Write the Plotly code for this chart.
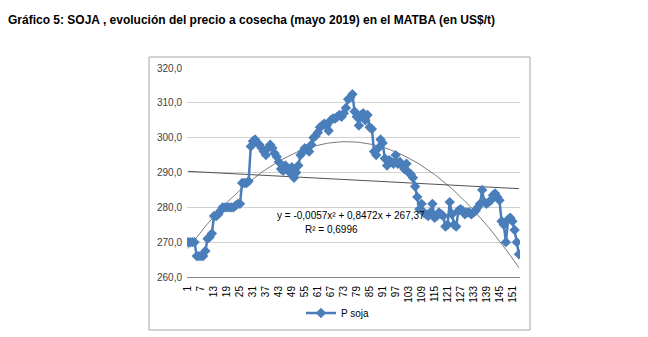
import numpy as np
import plotly.graph_objects as go

# ---- data ----
p_soja = [
    270.0, 270.0, 270.0, 270.0, 266.0, 266.0, 266.0, 266.0, 267.5, 271.0,
    271.5, 272.5, 277.5, 277.5, 278.0, 279.0, 280.0, 280.0, 280.0, 280.0,
    280.0, 280.0, 280.5, 281.0, 281.0, 287.0, 287.0, 287.0, 287.5, 297.5,
    299.0, 299.5, 298.5, 298.0, 297.0, 296.0, 295.0, 297.0, 298.0, 297.0,
    295.5, 294.5, 293.0, 291.0, 290.5, 292.0, 291.0, 290.0, 291.5, 288.5,
    290.0, 292.0, 295.0, 296.0, 297.0, 296.5, 296.0, 298.0, 300.0, 300.5,
    301.5, 303.0, 303.5, 304.0, 303.5, 302.0, 305.0, 305.5, 305.5, 306.0,
    306.5, 306.0, 307.0, 308.5, 311.0, 311.5, 312.5, 307.5, 306.0, 303.5,
    306.5, 307.0, 305.0, 306.5, 303.0, 302.5, 296.0, 295.0, 297.0, 299.5,
    298.5, 294.0, 292.0, 293.5, 293.0, 292.5, 295.0, 292.5, 293.0, 292.0,
    291.0, 292.5, 290.0, 289.5, 288.5, 286.0, 283.0, 279.5, 281.0, 278.5,
    278.0, 277.5, 278.5, 281.0, 277.0, 277.5, 278.5, 278.0, 277.5, 274.5,
    275.0, 281.5, 278.0, 275.0, 274.5, 279.0, 279.5, 279.0, 278.0, 278.5,
    278.5, 278.0, 278.5, 279.0, 280.0, 281.0, 285.0, 281.5, 281.0, 281.5,
    282.0, 283.5, 284.0, 283.0, 282.0, 276.0, 275.0, 270.0, 276.5, 277.0,
    276.0, 273.5, 270.0, 266.5,
]
x_idx = list(range(1, len(p_soja) + 1))
x_ticks = list(range(1, 152, 6))
series_name = "P soja"
title_text = "Gráfico 5: SOJA , evolución del precio a cosecha (mayo 2019) en el MATBA (en US$/t)"
poly_coef = [-0.0057, 0.8472, 267.37]   # as printed on the chart
r2_text = "R² = 0,6996"
eq_text = "y = -0,0057x² + 0,8472x + 267,37"

# ---- trendlines ----
xa = np.array(x_idx, dtype=float)
lin = np.polyfit(xa, np.array(p_soja), 1)
lin_y = np.polyval(lin, xa)
poly_y = np.polyval(poly_coef, xa)

W, H = 648, 337
L, R, T, B = 187, 128, 68, 60
pw, ph = W - L - R, H - T - B


def px(x):
    return (x - L) / pw


def py(y):
    return (H - B - y) / ph


fig = go.Figure()
fig.add_trace(go.Scatter(x=x_idx, y=lin_y, mode="lines", line=dict(color="#404040", width=0.9),
                         showlegend=False, hoverinfo="skip"))
fig.add_trace(go.Scatter(x=x_idx, y=poly_y, mode="lines", line=dict(color="#404040", width=0.7),
                         showlegend=False, hoverinfo="skip"))
fig.add_trace(go.Scatter(x=x_idx, y=p_soja, mode="lines+markers", name=series_name,
                         line=dict(color="#4a7ebb", width=2.5),
                         marker=dict(symbol="diamond", size=8, color="#4a7ebb")))

fig.add_annotation(x=px(351), y=py(215), xref="paper", yref="paper", text=eq_text, showarrow=False,
                   font=dict(family="Liberation Sans", size=10, color="#000000"), xanchor="center", yanchor="middle")
fig.add_annotation(x=px(331), y=py(229), xref="paper", yref="paper", text=r2_text, showarrow=False,
                   font=dict(family="Liberation Sans", size=10, color="#000000"), xanchor="center", yanchor="middle")

fig.add_shape(type="rect", xref="paper", yref="paper", x0=px(149), x1=px(530), y0=py(330), y1=py(57),
              line=dict(color="#a6a6a6", width=1), layer="below")

fig.update_layout(
    width=W, height=H,
    margin=dict(l=L, r=R, t=T, b=B, autoexpand=False),
    paper_bgcolor="white", plot_bgcolor="white",
    separators=",.",
    title=dict(text="<b>" + title_text + "</b>", x=8 / W, xanchor="left", xref="container",
               y=1 - 20 / H, yanchor="middle", yref="container",
               font=dict(family="Liberation Sans", size=12, color="#000000")),
    xaxis=dict(range=[0.5, len(p_soja) + 0.5], tickmode="array", tickvals=x_ticks,
               ticktext=[str(t) for t in x_ticks], tickangle=-90, showgrid=False,
               showline=True, linecolor="#868686", linewidth=1, ticks="", zeroline=False,
               ticklabelstandoff=4,
               tickfont=dict(family="Liberation Sans", size=10, color="#000000")),
    yaxis=dict(range=[260, 320], dtick=10, tickformat=".1f", showgrid=True, gridcolor="#d0d0d0",
               gridwidth=1, zeroline=False, showline=False, ticks="", ticklabelstandoff=4,
               tickfont=dict(family="Liberation Sans", size=10, color="#404040")),
    legend=dict(orientation="h", x=px(301), y=py(313), xanchor="left", yanchor="middle",
                font=dict(family="Liberation Sans", size=10, color="#000000"), itemwidth=30,
                bgcolor="rgba(0,0,0,0)"),
    showlegend=True,
)

fig.write_html("out.html")
